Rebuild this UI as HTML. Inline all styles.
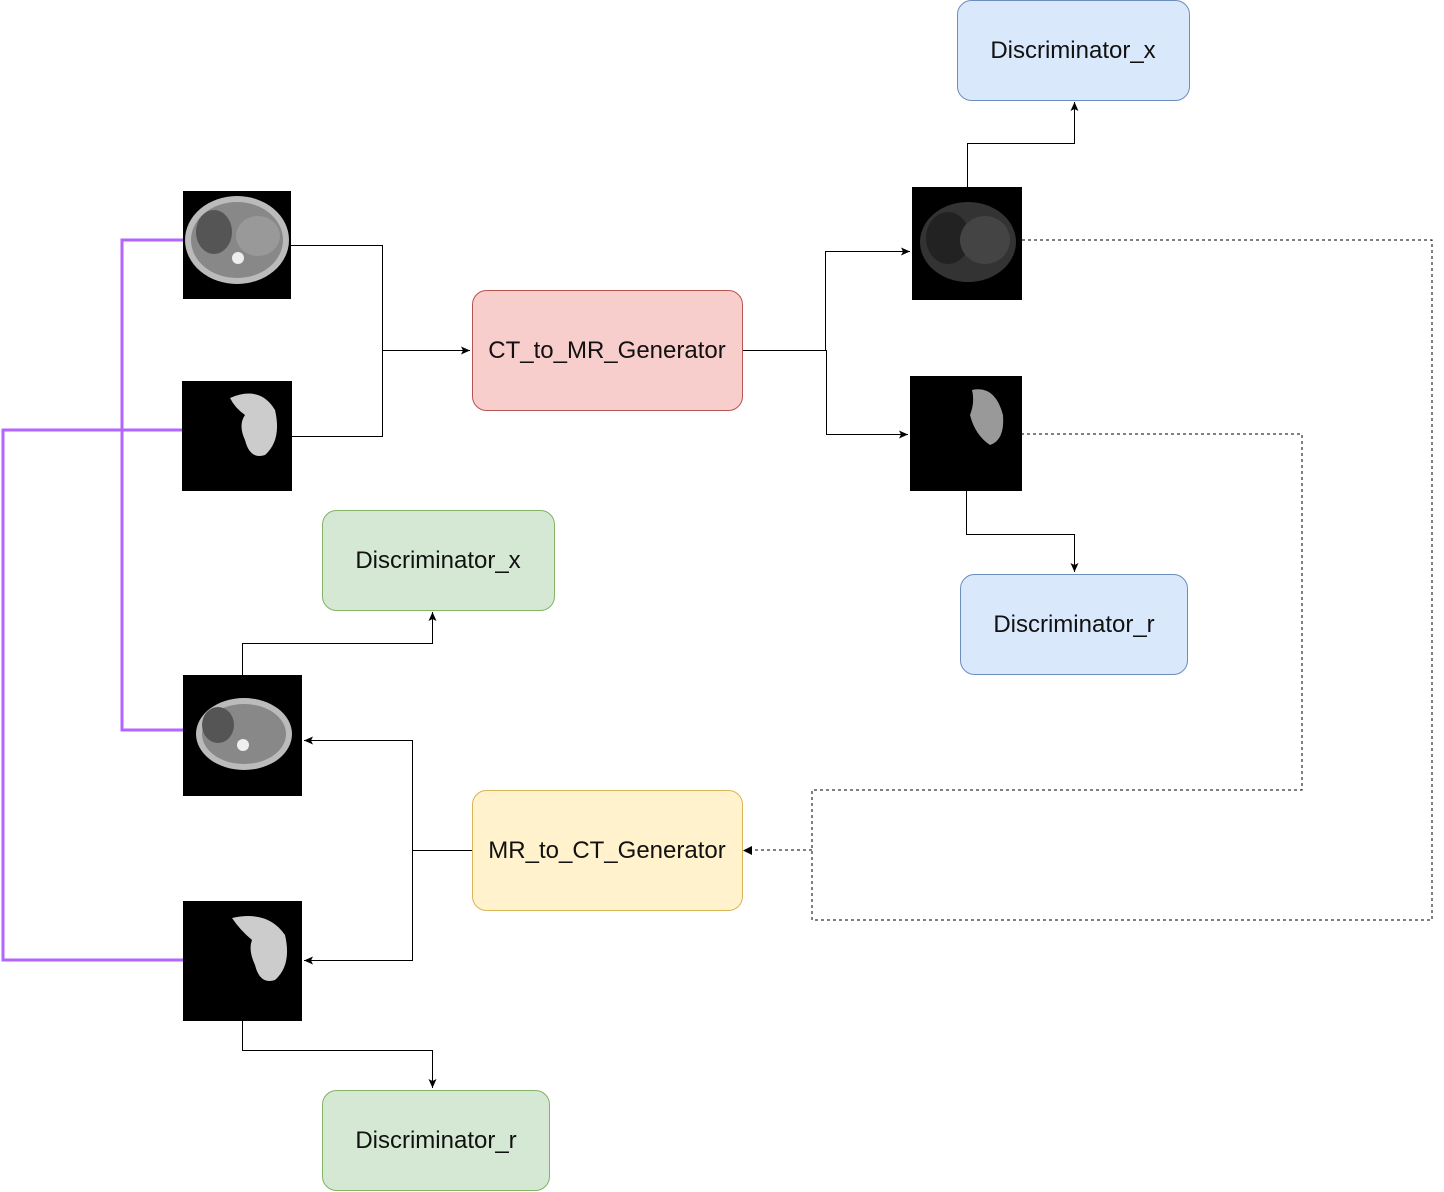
<!DOCTYPE html>
<html><head><meta charset="utf-8"><style>
body{margin:0;background:#fff;width:1444px;height:1192px;overflow:hidden}
svg{display:block}
text{font-family:"Liberation Sans",sans-serif;font-size:24px;fill:#111}
</style></head><body>
<svg width="1444" height="1192" viewBox="0 0 1444 1192">
<defs>
<marker id="a" markerWidth="10" markerHeight="10" refX="9" refY="5" orient="auto" markerUnits="userSpaceOnUse">
<path d="M0,1 L9,5 L0,9 L2,5 Z" fill="#000"/></marker>
</defs>
<g fill="none" stroke="#b266ff" stroke-width="3">
<path d="M183,240 H122 V730 H183"/>
<path d="M183,430 H3 V960 H183"/>
</g>
<g fill="none" stroke="#000" stroke-width="1">
<path d="M291,245.5 H382.5 V436.5 H292"/>
<path d="M382,350.5 H470" marker-end="url(#a)"/>
<path d="M742,350.5 H825.5 V251.5 H910" marker-end="url(#a)"/>
<path d="M826.5,350 V434.5 H908" marker-end="url(#a)"/>
<path d="M967.5,187 V143.5 H1074.5 V102" marker-end="url(#a)"/>
<path d="M966.5,491 V534.5 H1074.5 V572" marker-end="url(#a)"/>
<path d="M472,850.5 H412.5 V960.5 H304" marker-end="url(#a)"/>
<path d="M412.5,850 V740.5 H304" marker-end="url(#a)"/>
<path d="M242.5,675 V643.5 H432.5 V612" marker-end="url(#a)"/>
<path d="M242.5,1021 V1050.5 H432.5 V1088" marker-end="url(#a)"/>
</g>
<g fill="none" stroke="#000" stroke-width="1" stroke-dasharray="3,3" shape-rendering="crispEdges">
<path d="M1022,240 H1432 V920 H812 V790 H1302 V434 H1022"/>
<path d="M812,850 H746"/>
</g>
<path d="M752,846 L743,850.5 L752,855 Z" fill="#000"/>
<rect x="472.5" y="290.5" width="270" height="120" rx="14" fill="#f8cecc" stroke="#b85450"/>
<text x="607" y="358" text-anchor="middle">CT_to_MR_Generator</text>
<rect x="472.5" y="790.5" width="270" height="120" rx="14" fill="#fff2cc" stroke="#d6b656"/>
<text x="607" y="858" text-anchor="middle">MR_to_CT_Generator</text>
<rect x="957.5" y="0.5" width="232" height="100" rx="14" fill="#dae8fc" stroke="#6c8ebf"/>
<text x="1073" y="58" text-anchor="middle">Discriminator_x</text>
<rect x="960.5" y="574.5" width="227" height="100" rx="14" fill="#dae8fc" stroke="#6c8ebf"/>
<text x="1074" y="632" text-anchor="middle">Discriminator_r</text>
<rect x="322.5" y="510.5" width="232" height="100" rx="14" fill="#d5e8d4" stroke="#82b366"/>
<text x="438" y="568" text-anchor="middle">Discriminator_x</text>
<rect x="322.5" y="1090.5" width="227" height="100" rx="14" fill="#d5e8d4" stroke="#82b366"/>
<text x="436" y="1148" text-anchor="middle">Discriminator_r</text>
<rect x="183" y="191" width="108" height="108" fill="#000"/>
<ellipse cx="237" cy="240" rx="52" ry="44" fill="#bbb"/>
<ellipse cx="237" cy="240" rx="46" ry="38" fill="#888"/>
<ellipse cx="214" cy="232" rx="18" ry="22" fill="#555"/>
<ellipse cx="258" cy="236" rx="22" ry="20" fill="#999"/>
<circle cx="238" cy="258" r="6" fill="#eee"/>
<rect x="182" y="381" width="110" height="110" fill="#000"/>
<path d="M230,398 Q260,385 275,410 Q282,440 265,455 Q250,460 245,440 Q238,425 245,415 Q235,408 230,398Z" fill="#ccc"/>
<rect x="912" y="187" width="110" height="113" fill="#000"/>
<ellipse cx="968" cy="242" rx="48" ry="40" fill="#333"/>
<ellipse cx="948" cy="238" rx="22" ry="26" fill="#222"/>
<ellipse cx="985" cy="240" rx="25" ry="24" fill="#444"/>
<rect x="910" y="376" width="112" height="115" fill="#000"/>
<path d="M972,390 Q995,385 1003,415 Q1005,440 990,445 Q975,435 970,415 Q975,402 972,390Z" fill="#999"/>
<rect x="183" y="675" width="119" height="121" fill="#000"/>
<ellipse cx="244" cy="734" rx="48" ry="36" fill="#bbb"/>
<ellipse cx="244" cy="734" rx="42" ry="30" fill="#888"/>
<ellipse cx="218" cy="725" rx="16" ry="18" fill="#555"/>
<circle cx="243" cy="745" r="6" fill="#eee"/>
<rect x="183" y="901" width="119" height="120" fill="#000"/>
<path d="M232,918 Q268,910 285,935 Q292,965 275,980 Q260,985 255,965 Q248,950 252,940 Q240,930 232,918Z" fill="#ccc"/>
</svg>
</body></html>
